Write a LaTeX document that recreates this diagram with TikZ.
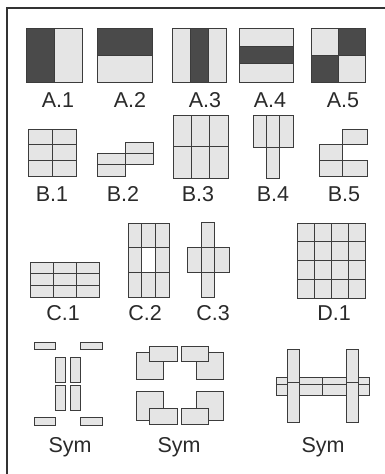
\documentclass[tikz,border=0pt]{standalone}
\usepackage{fontspec}
\setmainfont{Liberation Sans}
\definecolor{lightc}{HTML}{E5E5E5}
\definecolor{darkc}{HTML}{4A4A4A}
\definecolor{edgec}{HTML}{3C3C3C}
\definecolor{textc}{HTML}{2A2A2A}
\definecolor{framec}{HTML}{333333}
\tikzset{
  cell/.style={fill=lightc, draw=edgec, line width=0.9pt},
  darkcell/.style={fill=darkc, draw=edgec, line width=0.9pt},
  whitecell/.style={fill=white, draw=edgec, line width=0.9pt},
  framebox/.style={draw=framec, line width=1.2pt},
  lbl/.style={anchor=base, text=textc, inner sep=0pt, font=\fontsize{21.5}{24}\selectfont}
}
\newcommand{\cbox}[4]{\draw[cell] (#1,#2) rectangle (#3,#4);}
\begin{document}
\begin{tikzpicture}[x=1pt,y=-1pt]
\useasboundingbox (0,0) rectangle (384,474);
\fill[white] (0,0) rectangle (384,474);
% frame
\draw[framebox] (7,480) -- (7,8) -- (392,8);

% ---- Row A ----
\draw[darkcell] (26,28) rectangle (54,82);
\draw[cell] (54,28) rectangle (82,82);
\node[lbl] (a1) at (58,107) {A.1};

\draw[darkcell] (97,28) rectangle (152,55);
\draw[cell] (97,55) rectangle (152,82);
\node[lbl] (a2) at (130,107) {A.2};

\draw[cell] (172,28) rectangle (190,82);
\draw[darkcell] (190,28) rectangle (208,82);
\draw[cell] (208,28) rectangle (226,82);
\node[lbl] (a3) at (205,107) {A.3};

\draw[cell] (239,28) rectangle (293,46);
\draw[darkcell] (239,46) rectangle (293,63);
\draw[cell] (239,63) rectangle (293,82);
\node[lbl] (a4) at (270,107) {A.4};

\draw[cell] (311,28) rectangle (338,55);
\draw[darkcell] (338,28) rectangle (365,55);
\draw[darkcell] (311,55) rectangle (338,82);
\draw[cell] (338,55) rectangle (365,82);
\node[lbl] (a5) at (343,107) {A.5};

% ---- Row B ----
\foreach \xa/\xb in {28/52,52/76}{
  \foreach \ya/\yb in {129/144.7,144.7/160.3,160.3/176}{
    \cbox{\xa}{\ya}{\xb}{\yb}}}
\node[lbl] (b1) at (52,201) {B.1};

\cbox{97}{153}{125}{164.5}
\cbox{97}{164.5}{125}{176}
\cbox{125}{142}{153}{153}
\cbox{125}{153}{153}{164.5}
\node[lbl] (b2) at (123,201) {B.2};

\foreach \xa/\xb in {173/191.3,191.3/209.7,209.7/228}{
  \foreach \ya/\yb in {115/146.5,146.5/178}{
    \cbox{\xa}{\ya}{\xb}{\yb}}}
\node[lbl] (b3) at (198,201) {B.3};

\cbox{253}{115}{266.3}{147}
\cbox{266.3}{115}{279.7}{147}
\cbox{279.7}{115}{293}{147}
\cbox{266.3}{147}{279.7}{178}
\node[lbl] (b4) at (273,201) {B.4};

\cbox{319}{144}{342}{160}
\cbox{319}{160}{342}{176}
\cbox{342}{129}{367}{144}
\cbox{342}{160}{367}{176}
\node[lbl] (b5) at (344,201) {B.5};

% ---- Row C ----
\foreach \xa/\xb in {30/53,53/76,76/99}{
  \foreach \ya/\yb in {262/273.7,273.7/285.3,285.3/297}{
    \cbox{\xa}{\ya}{\xb}{\yb}}}
\node[lbl] (c1) at (63,320) {C.1};

\foreach \xa/\xb in {128/141.7,141.7/155.3,155.3/169}{
  \foreach \ya/\yb in {223/247.7,247.7/272.3,272.3/297}{
    \cbox{\xa}{\ya}{\xb}{\yb}}}
\draw[whitecell] (141.7,247.7) rectangle (155.3,272.3);
\node[lbl] (c2) at (145,320) {C.2};

\cbox{201}{222}{214}{297}
\cbox{187}{247}{201}{272}
\cbox{201}{247}{214}{272}
\cbox{214}{247}{229}{272}
\node[lbl] (c3) at (213,320) {C.3};

\foreach \xa/\xb in {297/314,314/331,331/348,348/365}{
  \foreach \ya/\yb in {223/241.75,241.75/260.5,260.5/279.25,279.25/298}{
    \cbox{\xa}{\ya}{\xb}{\yb}}}
\node[lbl] (d1) at (334,320) {D.1};

% ---- Sym row ----
\cbox{34}{342}{55}{349}
\cbox{80}{342}{102}{349}
\cbox{34}{417}{55}{425}
\cbox{80}{417}{102}{425}
\cbox{55}{357}{65}{382}
\cbox{70}{357}{80}{382}
\cbox{55}{385}{65}{410}
\cbox{70}{385}{80}{410}
\node[lbl] (s1) at (70,452) {Sym};

\cbox{136}{352}{163}{379}
\cbox{149}{346}{177}{361}
\cbox{196}{352}{223}{379}
\cbox{181}{346}{208}{361}
\cbox{136}{391}{163}{420}
\cbox{149}{408}{177}{424}
\cbox{196}{391}{223}{420}
\cbox{181}{408}{208}{424}
\node[lbl] (s2) at (179,452) {Sym};

\cbox{276}{377}{322}{384}
\cbox{322}{377}{369}{384}
\cbox{276}{384}{322}{395}
\cbox{322}{384}{369}{395}
\cbox{287}{349}{299}{382}
\cbox{287}{382}{299}{422}
\cbox{346}{349}{358}{382}
\cbox{346}{382}{358}{422}
\node[lbl] (s3) at (323,452) {Sym};
\end{tikzpicture}
\end{document}
